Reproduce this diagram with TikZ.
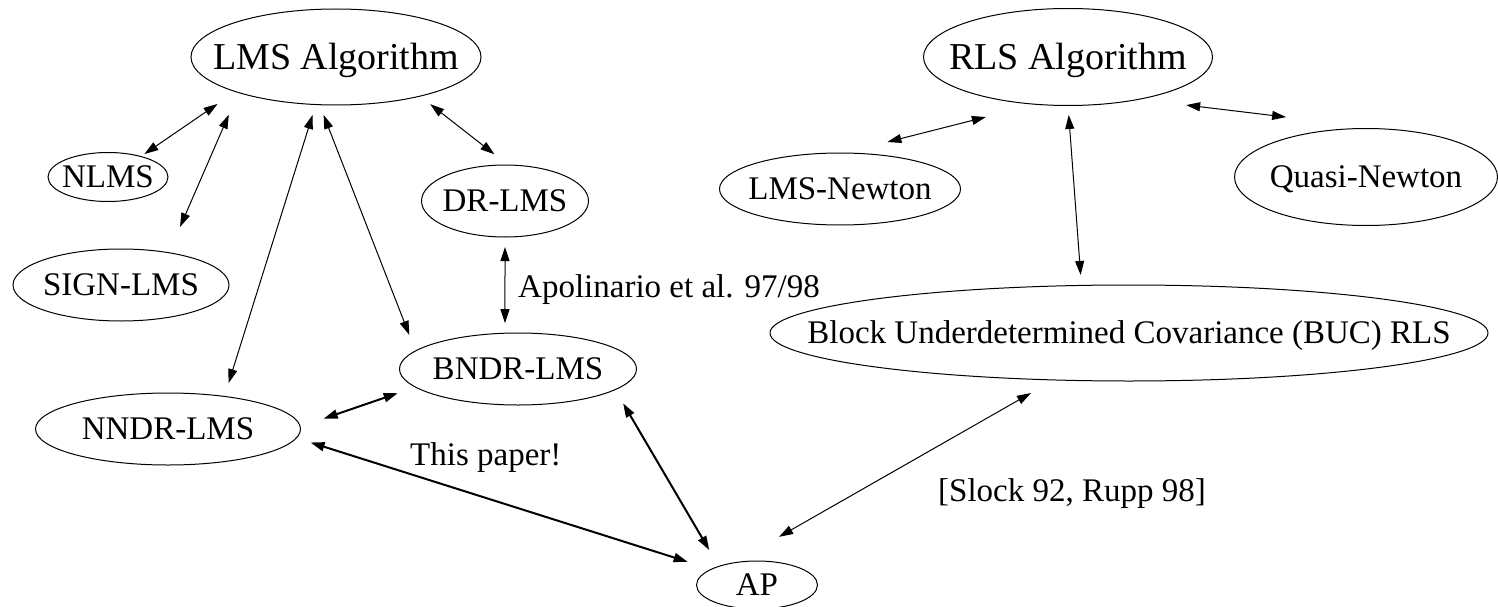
\documentclass[tikz,border=0pt]{standalone}
\usepackage{fontspec}
\setmainfont{Liberation Serif}
\usetikzlibrary{shapes.geometric,arrows.meta}

% text that does not stretch the ellipse round it
\newcommand\inell[1]{\makebox[0pt]{\raisebox{0pt}[0.662em][0pt]{#1}}}

\begin{document}
\begin{tikzpicture}[x=1pt,y=-1pt,
  alg/.style={ellipse, draw, line width=1pt, inner sep=0pt, outer sep=0pt, font=\fontsize{33}{40}\selectfont},
  bigalg/.style={alg, font=\fontsize{38}{46}\selectfont},
  lbl/.style={inner sep=0pt, font=\fontsize{33}{40}\selectfont},
  link/.style={{Triangle[length=14pt,width=9pt]}-{Triangle[length=14pt,width=9pt]}, line width=1pt},
  boldlink/.style={link, line width=2pt}]
  \useasboundingbox (0,0) rectangle (1498,607);

  % LMS family
  \node[bigalg, minimum width=290pt, minimum height=96pt] (lms) at (336,57) {\inell{LMS Algorithm}};
  \node[alg, minimum width=120pt, minimum height=49pt] (nlms) at (108,177) {\inell{NLMS}};
  \node[alg, minimum width=216pt, minimum height=72pt] (sign) at (121,285) {\inell{SIGN-LMS}};
  \node[alg, minimum width=167pt, minimum height=72pt] (drlms) at (505,201) {\inell{DR-LMS}};
  \node[alg, minimum width=237pt, minimum height=72pt] (bndr) at (518,369) {\inell{BNDR-LMS}};
  \node[alg, minimum width=265pt, minimum height=72pt] (nndr) at (168,429) {\inell{NNDR-LMS}};
  \node[alg, minimum width=121pt, minimum height=48pt] (ap) at (757,585) {\inell{AP}};

  % RLS family
  \node[bigalg, minimum width=289pt, minimum height=97pt] (rls) at (1068,57) {\inell{RLS Algorithm}};
  \node[alg, minimum width=241pt, minimum height=72pt] (lmsn) at (840,189) {\inell{LMS-Newton}};
  \node[alg, minimum width=263pt, minimum height=97pt] (quasi) at (1366,177) {\inell{Quasi-Newton}};
  \node[alg, minimum width=718pt, minimum height=96pt] (buc) at (1129,333) {\inell{Block Underdetermined Covariance (BUC) RLS}};

  % labels
  \node[lbl, anchor=base west] (apol) at (518,297) {Apolinario et al. 97/98};
  \node[lbl, anchor=base west] (paper) at (410,465) {This paper!};
  \node[lbl, anchor=base west] (slock) at (938,501) {[Slock 92, Rupp 98]};

  \draw[link, shorten <=21.8pt, shorten >=4.3pt] (lms.199.2) -- (nlms.32.4);
  \draw[link, shorten <=24.2pt, shorten >=28.1pt] (lms.200.5) -- (sign.34.2);
  \draw[link, shorten <=10.9pt, shorten >=14pt] (lms.247.5) -- (nndr.30.4);
  \draw[link, shorten <=11pt, shorten >=17.2pt] (lms.251.5) -- (bndr.170.1);
  \draw[link, shorten <=13.1pt, shorten >=17.5pt] (lms.335.7) -- (drlms.85.9);
  \draw[link, shorten <=10pt, shorten >=10pt] (drlms.south) -- (bndr.110);
  \draw[boldlink, shorten <=24.8pt, shorten >=18.8pt] (nndr.1.9) -- (bndr.190.2);
  \draw[boldlink, shorten <=15pt, shorten >=24.8pt] (nndr.356.7) -- (ap.161.6);
  \draw[boldlink, shorten <=15.9pt, shorten >=19pt] (bndr.348.4) -- (ap.154.3);
  \draw[link, shorten <=26.4pt, shorten >=52.7pt] (buc.212.8) -- (ap.137.3);

  \draw[link, shorten <=51.8pt, shorten >=45pt] (rls.236.1) -- (lmsn.84.8);
  \draw[link, shorten <=48pt, shorten >=100pt] (rls.329.4) -- (quasi.68.1);
  \draw[link, shorten <=9.5pt, shorten >=10.5pt] (rls.270.4) -- (buc.135.5);
\end{tikzpicture}
\end{document}
